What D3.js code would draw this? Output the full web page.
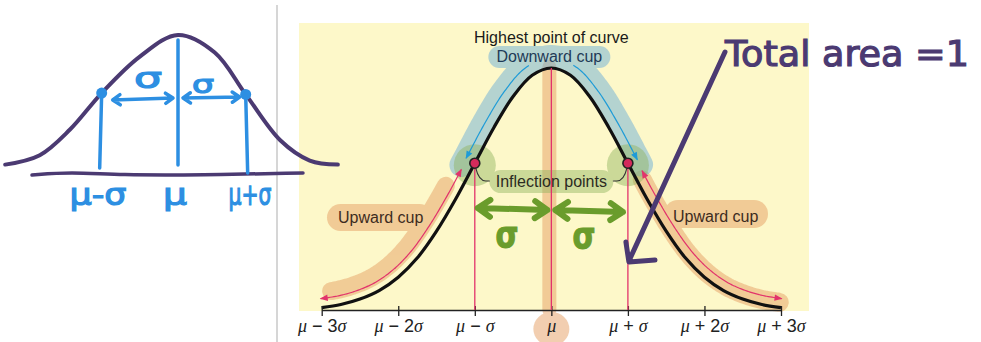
<!DOCTYPE html>
<html>
<head>
<meta charset="utf-8">
<script src="https://cdn.jsdelivr.net/npm/d3@7"></script>
<style>
  body { margin: 0; background: #fff; }
  svg { display: block; }
</style>
</head>
<body>
<svg id="chart" width="981" height="342"></svg>
<script>
// textbook curve, height every quarter sigma
var curveZ = [-3, -2.75, -2.5, -2.25, -2, -1.75, -1.5, -1.25, -1, -0.75, -0.5, -0.25, 0,
              0.25, 0.5, 0.75, 1, 1.25, 1.5, 1.75, 2, 2.25, 2.5, 2.75, 3];
var curveDensity = [0.004, 0.009, 0.018, 0.032, 0.054, 0.086, 0.130, 0.183, 0.242, 0.301, 0.352, 0.387, 0.399,
                    0.387, 0.352, 0.301, 0.242, 0.183, 0.130, 0.086, 0.054, 0.032, 0.018, 0.009, 0.004];
var tickZ = [-3, -2, -1, 0, 1, 2, 3];
var tickLabels = ['μ − 3σ', 'μ − 2σ', 'μ − σ', 'μ', 'μ + σ', 'μ + 2σ', 'μ + 3σ'];
var inflectionZ = [-1, 1];

// hand sketch on the left (height relative to its peak)
var sketchZ = [-2.4, -1.92, -1.5, -1.06, -0.53, 0, 0.51, 0.94, 1.42, 1.83, 2.22];
var sketchHeight = [0.04, 0.11, 0.30, 0.57, 0.84, 1, 0.87, 0.56, 0.22, 0.07, 0.04];
var sketchMarkIdx = [3, 5, 7];
var sketchLabels = ['μ-σ', 'μ', 'μ+σ'];

var svg = d3.select('#chart');

var x = d3.scaleLinear().domain([-3, 3]).range([321.7, 781]);
var y = d3.scaleLinear().domain([0, 0.399]).range([310, 68]);
var sx = d3.scaleLinear().domain([-1, 1]).range([106, 250]);
var sy = d3.scaleLinear().domain([0, 1]).range([170, 35]);

var PINK = '#e2336b', BLUE = '#1e9bd7', PURPLE = '#4b3a72', SKBLUE = '#2d8fe2', GREEN = '#6a9c2c';

// markers
var defs = svg.append('defs');
[['pinkHead', PINK], ['blueHead', BLUE]].forEach(function(m) {
  defs.append('marker')
    .attr('id', m[0]).attr('viewBox', '0 0 10 10')
    .attr('refX', 9).attr('refY', 5)
    .attr('markerWidth', 9).attr('markerHeight', 8)
    .attr('markerUnits', 'userSpaceOnUse')
    .attr('orient', 'auto-start-reverse')
    .append('path').attr('d', 'M0,1 L10,5 L0,9 Z').attr('fill', m[1]);
});

// divider + yellow panel
svg.append('line').attr('x1', 277).attr('x2', 277).attr('y1', 5).attr('y2', 342)
  .attr('stroke', '#c8c8c8').attr('stroke-width', 1.5);
svg.append('rect').attr('x', 299).attr('y', 23).attr('width', 510).attr('height', 288)
  .attr('fill', '#fdf8c9');

var gHi = svg.append('g');
var gFig = svg.append('g');
var gHand = svg.append('g');

// the curve itself
var curveLine = d3.line()
  .x(function(d) { return x(d[0]); })
  .y(function(d) { return y(d[1]); })
  .curve(d3.curveCatmullRom);
var curvePts = d3.zip(curveZ, curveDensity);

var curvePath = gFig.append('path')
  .attr('d', curveLine(curvePts))
  .attr('fill', 'none').attr('stroke', '#111').attr('stroke-width', 3.2);

// points along the drawn curve, pushed outward by `off` px
function alongCurve(z0, z1, off) {
  var node = curvePath.node(), L = node.getTotalLength(), pts = [];
  for (var s = 0; s <= L; s += 2) {
    var p = node.getPointAtLength(s);
    if (p.x >= x(z0) && p.x <= x(z1)) pts.push([p.x, p.y]);
  }
  return pts.map(function(p, i) {
    var a = pts[Math.max(0, i - 1)], b = pts[Math.min(pts.length - 1, i + 1)];
    var dx = b[0] - a[0], dy = b[1] - a[1], n = Math.hypot(dx, dy) || 1;
    return [p[0] + dy / n * off, p[1] - dx / n * off];
  });
}
var raw = d3.line().curve(d3.curveBasis);

// ---- highlighter layer ----
var orange = gHi.append('g').attr('opacity', 0.5);
var blue = gHi.append('g').attr('opacity', 0.5);
var green = gHi.append('g').attr('opacity', 0.45);
var OR = '#e69f64', BL = '#6eafd8', GR = '#8fb45e';

orange.append('path').attr('d', raw(alongCurve(-2.85, -1.2, 15)))
  .attr('fill', 'none').attr('stroke', OR).attr('stroke-width', 18).attr('stroke-linecap', 'round');
orange.append('path').attr('d', raw(alongCurve(1.12, 2.98, 5)))
  .attr('fill', 'none').attr('stroke', OR).attr('stroke-width', 19).attr('stroke-linecap', 'round');
orange.append('rect').attr('x', 327).attr('y', 204).attr('width', 106).attr('height', 27).attr('rx', 13.5)
  .attr('fill', OR);
orange.append('rect').attr('x', 664).attr('y', 200).attr('width', 104).attr('height', 28).attr('rx', 14)
  .attr('fill', OR);
orange.append('line').attr('x1', x(0) - 2).attr('x2', x(0) - 2).attr('y1', y(0.399) - 1).attr('y2', y(0))
  .attr('stroke', OR).attr('stroke-width', 14).attr('stroke-linecap', 'round');
orange.append('ellipse').attr('cx', x(0)).attr('cy', 329).attr('rx', 18).attr('ry', 17).attr('fill', OR);

blue.append('path').attr('d', raw(alongCurve(-1.05, 1.05, 11)))
  .attr('fill', 'none').attr('stroke', BL).attr('stroke-width', 24).attr('stroke-linecap', 'round');
blue.append('rect').attr('x', x(0) - 63).attr('y', 46).attr('width', 122).attr('height', 22).attr('rx', 11)
  .attr('fill', BL);

inflectionZ.forEach(function(z) {
  green.append('circle').attr('cx', x(z)).attr('cy', y(curveDensity[curveZ.indexOf(z)]) + 2).attr('r', 21)
    .attr('fill', GR);
});
green.append('rect').attr('x', x(0) - 62).attr('y', 170).attr('width', 124).attr('height', 23).attr('rx', 11.5)
  .attr('fill', GR);

// ---- textbook figure ----
// axis
var axis = d3.axisBottom(x).tickValues(tickZ).tickSize(6).tickSizeOuter(0).tickFormat('');
var gAxis = gFig.append('g').attr('transform', 'translate(0,' + y(0) + ')').call(axis);
gAxis.select('.domain').attr('stroke', '#222').attr('stroke-width', 1.3);
gAxis.selectAll('.tick line').attr('y1', -4).attr('stroke', '#222').attr('stroke-width', 1.3);
gAxis.selectAll('.tick').each(function(d, i) {
  var t = d3.select(this).append('text')
    .attr('y', 22).attr('text-anchor', 'middle').attr('fill', '#222')
    .style('font-size', '18px').style('font-family', 'Liberation Sans, Arial, sans-serif');
  tickLabels[i].split('').forEach(function(ch) {
    var greek = ch === 'μ' || ch === 'σ';
    t.append('tspan').text(ch)
      .style('font-family', greek ? 'Liberation Serif, Times New Roman, serif' : null)
      .style('font-style', greek ? 'italic' : null);
  });
});

// pink guide lines
gFig.append('line').attr('x1', x(0)).attr('x2', x(0)).attr('y1', y(0.399)).attr('y2', y(0))
  .attr('stroke', PINK).attr('stroke-width', 1.3);
inflectionZ.forEach(function(z) {
  gFig.append('line').attr('x1', x(z)).attr('x2', x(z))
    .attr('y1', y(curveDensity[curveZ.indexOf(z)])).attr('y2', y(0))
    .attr('stroke', PINK).attr('stroke-width', 1.3);
});

// arrows along the curve
var smooth = d3.line().curve(d3.curveBasis);
gFig.append('path').attr('d', smooth(alongCurve(-3, -1.07, 9)))
  .attr('fill', 'none').attr('stroke', PINK).attr('stroke-width', 1.2)
  .attr('marker-start', 'url(#pinkHead)').attr('marker-end', 'url(#pinkHead)');
gFig.append('path').attr('d', smooth(alongCurve(1.07, 3, 9)))
  .attr('fill', 'none').attr('stroke', PINK).attr('stroke-width', 1.2)
  .attr('marker-start', 'url(#pinkHead)').attr('marker-end', 'url(#pinkHead)');
gFig.append('path').attr('d', smooth(alongCurve(-1.01, -0.2, 10)))
  .attr('fill', 'none').attr('stroke', BLUE).attr('stroke-width', 1.2)
  .attr('marker-start', 'url(#blueHead)');
gFig.append('path').attr('d', smooth(alongCurve(0.2, 1.01, 10)))
  .attr('fill', 'none').attr('stroke', BLUE).attr('stroke-width', 1.2)
  .attr('marker-end', 'url(#blueHead)');

// inflection points and connectors
inflectionZ.forEach(function(z) {
  var cx = x(z), cy = y(curveDensity[curveZ.indexOf(z)]), s = z < 0 ? 1 : -1;
  gFig.append('path')
    .attr('d', 'M' + (cx + s * 1) + ',' + (cy + 5) + ' Q' + (cx + s * 4) + ',181 ' + (cx + s * 11) + ',181 L' + (cx + s * 15) + ',181')
    .attr('fill', 'none').attr('stroke', '#333').attr('stroke-width', 1.1);
  gFig.append('circle').attr('cx', cx).attr('cy', cy).attr('r', 5)
    .attr('fill', '#d42a5b').attr('stroke', '#222').attr('stroke-width', 1.6);
});

// figure texts
var sans = 'Liberation Sans, Arial, sans-serif';
function label(txt, px, py, col, anchor) {
  gFig.append('text').attr('x', px).attr('y', py).attr('text-anchor', anchor || 'middle')
    .attr('fill', col).style('font-family', sans).style('font-size', '16px').text(txt);
}
label('Highest point of curve', x(0), 43, '#1a1a1a');
label('Downward cup', x(0) - 2, 62, '#1f3b57');
label('Inflection points', x(0), 187, '#2b2b22');
label('Upward cup', 338, 223, '#3d2b1f', 'start');
label('Upward cup', 673, 222, '#3d2b1f', 'start');

// ---- hand annotations ----
function handArrow(p1, p2, len, both, col, w) {
  var ang = Math.atan2(p2[1] - p1[1], p2[0] - p1[0]), a = 0.6;
  function head(p, dir) {
    return 'M' + (p[0] - len * Math.cos(dir - a)) + ',' + (p[1] - len * Math.sin(dir - a)) +
      ' L' + p[0] + ',' + p[1] +
      ' L' + (p[0] - len * Math.cos(dir + a)) + ',' + (p[1] - len * Math.sin(dir + a));
  }
  var d = 'M' + p1[0] + ',' + p1[1] + ' L' + p2[0] + ',' + p2[1] + ' ' + head(p2, ang);
  if (both) d += ' ' + head(p1, ang + Math.PI);
  gHand.append('path').attr('d', d).attr('fill', 'none').attr('stroke', col)
    .attr('stroke-width', w).attr('stroke-linecap', 'round').attr('stroke-linejoin', 'round');
}
function handText(txt, px, py, size, col, len, weight) {
  var t = gHand.append('text').attr('x', px).attr('y', py).attr('text-anchor', 'middle')
    .attr('fill', col).attr('stroke', col).attr('stroke-width', 1.2)
    .style('font-family', 'DejaVu Sans, sans-serif').style('font-size', size + 'px')
    .style('font-weight', weight || 'normal').text(txt);
  if (len) t.attr('textLength', len).attr('lengthAdjust', 'spacingAndGlyphs');
}

// green sigma arrows
handArrow([x(-1) + 3, 208], [x(0) - 4, 210], 15, true, GREEN, 6);
handArrow([x(0) + 4, 210], [x(1) - 5, 212], 15, true, GREEN, 6);
handText('σ', 507, 247, 38, GREEN, 23, 'bold');
handText('σ', 584, 248, 38, GREEN, 23, 'bold');

// total area note
gHand.append('text').attr('x', 725).attr('y', 66)
  .attr('fill', PURPLE).attr('stroke', PURPLE).attr('stroke-width', 1.2)
  .attr('textLength', 244).attr('lengthAdjust', 'spacingAndGlyphs')
  .style('font-family', 'DejaVu Sans, sans-serif').style('font-size', '36px')
  .text('Total area =1');
gHand.append('path')
  .attr('d', 'M725,52 L' + (x(1) + 1) + ',261 M' + (x(1) - 2) + ',242 L' + (x(1) + 1) + ',262 L655,260')
  .attr('fill', 'none').attr('stroke', PURPLE).attr('stroke-width', 5)
  .attr('stroke-linecap', 'round').attr('stroke-linejoin', 'round');

// left sketch
var sketchLine = d3.line()
  .x(function(d) { return sx(d[0]); })
  .y(function(d) { return sy(d[1]); })
  .curve(d3.curveCatmullRom);
gHand.append('path').attr('d', sketchLine(d3.zip(sketchZ, sketchHeight)))
  .attr('fill', 'none').attr('stroke', PURPLE).attr('stroke-width', 4).attr('stroke-linecap', 'round');
gHand.append('path')
  .attr('d', d3.line().curve(d3.curveBasis)([[32, 175], [70, 172], [120, 175], [200, 175], [303, 173]]))
  .attr('fill', 'none').attr('stroke', PURPLE).attr('stroke-width', 3.5).attr('stroke-linecap', 'round');

var markBottoms = [168, 165, 173];
var markShift = [-2, 0, 2];
sketchMarkIdx.forEach(function(k, i) {
  var mx = sx(sketchZ[k]), my = sy(sketchHeight[k]);
  var top = i === 1 ? 40 : my;
  gHand.append('line').attr('x1', mx).attr('x2', mx + markShift[i])
    .attr('y1', top).attr('y2', markBottoms[i])
    .attr('stroke', SKBLUE).attr('stroke-width', 3.5).attr('stroke-linecap', 'round');
  if (i !== 1) {
    gHand.append('circle').attr('cx', mx).attr('cy', my).attr('r', 5.5).attr('fill', SKBLUE);
  }
  handText(sketchLabels[i], [98, 175, 250][i], 205, 30, SKBLUE, [57, 24, 43][i]);
});
handArrow([sx(sketchZ[3]) + 11, 100], [sx(0) - 5, 98], 9, true, SKBLUE, 3.5);
handArrow([sx(0) + 5, 98], [sx(sketchZ[7]) - 6, 97], 9, true, SKBLUE, 3.5);
handText('σ', 148, 88, 28, SKBLUE, 28);
handText('σ', 203, 93, 24, SKBLUE, 22);
</script>
</body>
</html>
